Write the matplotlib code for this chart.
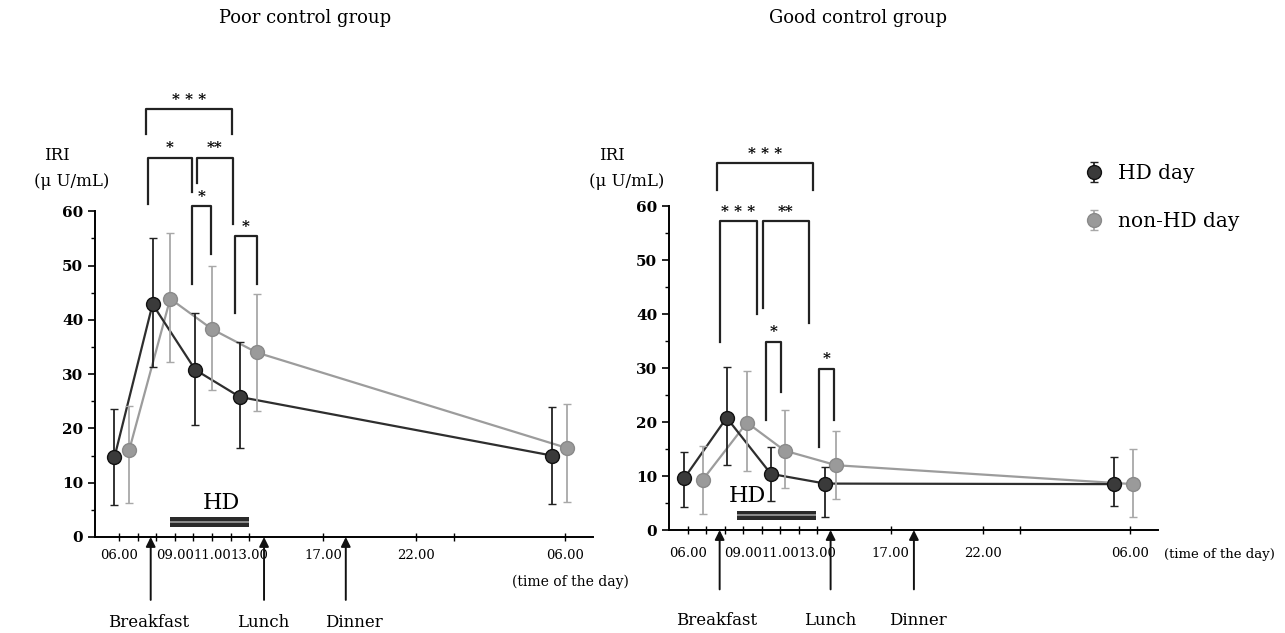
import numpy as np
import matplotlib.pyplot as plt
from matplotlib.ticker import FixedLocator

plt.rcParams['font.family'] = 'DejaVu Serif'

# time in hours, 30 = 06.00 next morning
poor_hd_t = [5.75, 7.8, 10.1, 12.5, 29.3]
poor_hd_iri = [14.7, 42.9, 30.8, 25.8, 15.0]
poor_hd_up = [23.6, 55.0, 41.3, 35.9, 24.0]
poor_hd_lo = [5.8, 31.3, 20.7, 16.4, 6.1]

poor_non_t = [6.55, 8.75, 11.0, 13.4, 30.1]
poor_non_iri = [16.1, 43.9, 38.3, 34.0, 16.4]
poor_non_up = [24.2, 56.0, 50.0, 44.7, 24.5]
poor_non_lo = [6.3, 32.2, 27.1, 23.2, 6.5]

good_hd_t = [5.8, 8.1, 10.5, 13.45, 29.1]
good_hd_iri = [9.6, 20.8, 10.4, 8.6, 8.5]
good_hd_up = [14.4, 30.2, 15.4, 11.7, 13.6]
good_hd_lo = [4.3, 12.0, 5.4, 2.4, 4.4]

good_non_t = [6.8, 9.2, 11.25, 14.05, 30.15]
good_non_iri = [9.3, 19.9, 14.7, 12.0, 8.5]
good_non_up = [15.6, 29.5, 22.3, 18.3, 15.0]
good_non_lo = [3.0, 10.9, 7.8, 5.7, 2.4]

# significance brackets: label, x left, x right, left leg end, right leg end, top
poor_brackets = [
    ('* * *', 7.44, 12.1, 74.3, 74.3, 78.9),
    ('*', 7.54, 9.9, 61.4, 63.6, 69.9),
    ('**', 10.17, 12.15, 65.2, 57.6, 69.9),
    ('*', 9.94, 10.96, 46.6, 52.2, 60.9),
    ('*', 12.24, 13.4, 41.2, 46.7, 55.5),
]
good_brackets = [
    ('* * *', 7.56, 12.76, 63.0, 63.0, 67.9),
    ('* * *', 7.74, 9.73, 34.9, 40.1, 57.3),
    ('**', 10.06, 12.58, 41.2, 38.4, 57.3),
    ('*', 10.22, 11.05, 20.4, 25.6, 34.9),
    ('*', 13.1, 13.95, 15.3, 20.4, 29.9),
]

tick_hours = [6, 9, 11, 13, 17, 22, 30]
tick_labels = ['06.00', '09.00', '11.00', '13.00', '17.00', '22.00', '06.00']
minor_hours = [7, 8, 10, 12, 24]
y_major = [0, 10, 20, 30, 40, 50, 60]
y_minor = [5, 15, 25, 35, 45, 55]

meals = ['Breakfast', 'Lunch', 'Dinner']
poor_meal_t = [7.7, 13.8, 18.2]
poor_meal_label_t = [7.6, 13.75, 18.66]
good_meal_t = [7.72, 13.74, 18.26]
good_meal_label_t = [7.57, 13.7, 18.5]

poor_hd_session = (8.75, 13.0)
good_hd_session = (8.65, 12.97)

DARK = '#2e2e2e'
GRAY = '#9c9c9c'

fig = plt.figure(figsize=(12.85, 6.33), dpi=100)
ax1 = fig.add_axes([0.0739, 0.1517, 0.3875, 0.703])
ax2 = fig.add_axes([0.5206, 0.1627, 0.3805, 0.614])


def draw_panel(ax, hd, non, brackets, xlim, ytop, meal_t, meal_label_t,
               session, hd_text_x, label_y, arrow_y, tick_pad):
    hd_t, hd_v, hd_up, hd_lo = [np.array(a) for a in hd]
    nt, nv, nup, nlo = [np.array(a) for a in non]

    ax.plot(nt, nv, color=GRAY, lw=1.6, zorder=2)
    ax.plot(hd_t, hd_v, color=DARK, lw=1.6, zorder=3)
    e_non = ax.errorbar(nt, nv, yerr=[nv - nlo, nup - nv], fmt='o', ms=10,
                        color=GRAY, mfc='#9a9a9a', mec='#8a8a8a',
                        ecolor='#a8a8a8', elinewidth=1.3, capsize=3, zorder=4)
    e_hd = ax.errorbar(hd_t, hd_v, yerr=[hd_v - hd_lo, hd_up - hd_v], fmt='o',
                       ms=10, color=DARK, mfc='#3a3a3a', mec='#111111',
                       ecolor='#222222', elinewidth=1.3, capsize=3, zorder=5)

    for lab, x1, x2, yb1, yb2, yt in brackets:
        ax.plot([x1, x1, x2, x2], [yb1, yt, yt, yb2], color='#222222',
                lw=1.6, clip_on=False, zorder=6)
        ax.text((x1 + x2) / 2, yt + 0.4, lab, ha='center', va='bottom',
                fontsize=11, fontweight='bold', clip_on=False)

    # HD session bar
    ax.broken_barh([(session[0], session[1] - session[0])], (1.9, 1.7),
                   facecolors='#2a2a2a', zorder=3)
    ax.broken_barh([(session[0], session[1] - session[0])], (2.6, 0.35),
                   facecolors='#8a8a8a', zorder=3)
    ax.text(hd_text_x, 4.2, 'HD', ha='center', va='bottom', fontsize=16)

    for name, t, lt in zip(meals, meal_t, meal_label_t):
        ax.annotate('', xy=(t, 0), xytext=(t, arrow_y),
                    arrowprops=dict(arrowstyle='-|>', color='#111111', lw=1.4,
                                    mutation_scale=14, shrinkA=0, shrinkB=0),
                    annotation_clip=False)
        ax.text(lt, label_y, name, ha='center', va='center', fontsize=12)

    ax.set_xlim(*xlim)
    ax.set_ylim(0, ytop)
    ax.spines['top'].set_visible(False)
    ax.spines['right'].set_visible(False)
    ax.spines['left'].set_bounds(0, 60)
    ax.spines['left'].set_linewidth(1.4)
    ax.spines['bottom'].set_linewidth(1.4)
    ax.yaxis.set_major_locator(FixedLocator(y_major))
    ax.yaxis.set_minor_locator(FixedLocator(y_minor))
    ax.set_xticks(tick_hours)
    ax.set_xticklabels(tick_labels, fontsize=9.5)
    ax.set_xticks(minor_hours, minor=True)
    ax.tick_params(axis='y', which='major', length=5, width=1.2,
                   labelsize=11)
    ax.tick_params(axis='y', which='minor', length=3, width=1.0)
    ax.tick_params(axis='x', which='both', direction='inout', length=6,
                   width=1.0, pad=tick_pad)
    for lbl in ax.get_yticklabels():
        lbl.set_fontweight('bold')
    return e_hd, e_non


draw_panel(ax1, (poor_hd_t, poor_hd_iri, poor_hd_up, poor_hd_lo),
           (poor_non_t, poor_non_iri, poor_non_up, poor_non_lo),
           poor_brackets, (4.7, 31.5), 82, poor_meal_t, poor_meal_label_t,
           poor_hd_session, 11.5, -15.7, -11.6, 6)
e_hd, e_non = draw_panel(ax2, (good_hd_t, good_hd_iri, good_hd_up, good_hd_lo),
                         (good_non_t, good_non_iri, good_non_up, good_non_lo),
                         good_brackets, (4.97, 31.5), 72, good_meal_t,
                         good_meal_label_t, good_hd_session, 9.2, -16.7, -11.0, 9)

ax1.text(0.954, -0.101, '(time of the day)', transform=ax1.transAxes,
         ha='center', va='center', fontsize=10)
ax2.text(1.012, -0.063, '(time of the day)', transform=ax2.transAxes,
         ha='left', va='center', fontsize=9.5)

fig.text(305 / 1285, 1 - 18 / 633, 'Poor control group', ha='center',
         va='center', fontsize=13)
fig.text(858 / 1285, 1 - 18 / 633, 'Good control group', ha='center',
         va='center', fontsize=13)

for x in (57, 612):
    fig.text(x / 1285, 1 - 155 / 633, 'IRI', ha='center', va='center',
             fontsize=12)
    fig.text((x + 15) / 1285, 1 - 181 / 633, '(μ U/mL)', ha='center',
             va='center', fontsize=12)

fig.legend([e_hd, e_non], ['HD day', 'non-HD day'], loc='upper left',
           bbox_to_anchor=(1066 / 1285, 1 - 146 / 633), frameon=False,
           fontsize=14.5, labelspacing=1.45, handlelength=1.0, handletextpad=0.7)

fig.savefig('out.png', dpi=100)
